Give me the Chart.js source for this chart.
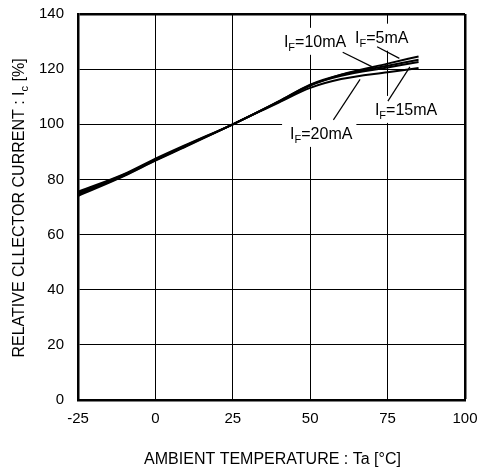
<!DOCTYPE html>
<html>
<head>
<meta charset="utf-8">
<script src="https://cdn.jsdelivr.net/npm/chart.js@4.4.1/dist/chart.umd.min.js"></script>
<style>
  html, body { margin: 0; padding: 0; background: #fff; }
  #wrap { width: 480px; height: 470px; }
</style>
</head>
<body>
<div id="wrap"><canvas id="c" width="480" height="470"></canvas></div>
<script>
// ---- Data ----
const temps = [-25, -10, 0, 10, 25, 40, 50, 60, 75, 85];
const if5  = [74.0, 81.3, 86.8, 92.0, 100, 108.2, 114.0, 118.0, 122.0, 124.6];
const if10 = [74.5, 81.5, 87.0, 92.2, 100, 108.4, 114.4, 118.0, 121.2, 123.4];
const if15 = [75.0, 81.8, 87.2, 92.4, 100, 108.4, 114.2, 117.6, 120.6, 122.6];
const if20 = [75.5, 82.0, 87.5, 92.6, 100, 108.0, 113.2, 116.4, 118.9, 120.4];
const seriesNames = ['5mA', '10mA', '15mA', '20mA'];
const xTicks = [-25, 0, 25, 50, 75, 100];
const yTicks = [0, 20, 40, 60, 80, 100, 120, 140];
const xTitle = 'AMBIENT TEMPERATURE : Ta [°C]';
const yTitleMain = 'RELATIVE CLLECTOR CURRENT : I';
const yTitleSub = 'c';
const yTitleEnd = ' [%]';
// Curve labels: text anchor (left, baseline) and leader line, in data units
const labelAnchors = {
  '10mA': [41.5, 128.1], '5mA': [64.5, 129.6],
  '20mA': [43.5, 94.7],  '15mA': [70.9, 103.4]
};
const leaders = {
  '10mA': [[60.5, 126.1], [69.9, 120.9]],
  '5mA':  [[71.6, 128.1], [78.8, 123.9]],
  '20mA': [[57.5, 101.6], [66.1, 116.3]],
  '15mA': [[75.1, 108.4], [82.2, 120.8]]
};

const FONT = '"Liberation Sans", Arial, sans-serif';
const toPts = arr => arr.map((v, i) => ({ x: temps[i], y: v }));

function labelParts(name) {
  return [
    { t: 'I', size: 16, dy: 0 },
    { t: 'F', size: 11, dy: 4 },
    { t: '=' + name, size: 16, dy: 0 }
  ];
}
function measureParts(ctx, parts) {
  let w = 0;
  parts.forEach(p => { ctx.font = p.size + 'px ' + FONT; w += ctx.measureText(p.t).width; });
  return w;
}
function drawParts(ctx, parts, x, y) {
  parts.forEach(p => {
    ctx.font = p.size + 'px ' + FONT;
    ctx.fillText(p.t, x, y + p.dy);
    x += ctx.measureText(p.t).width;
  });
}

const annot = {
  id: 'annot',
  beforeDatasetsDraw(chart) {
    const ctx = chart.ctx, xs = chart.scales.x, ys = chart.scales.y;
    ctx.save();
    ctx.fillStyle = '#fff';
    seriesNames.forEach(n => {
      const parts = labelParts(n);
      const w = measureParts(ctx, parts);
      const px = xs.getPixelForValue(labelAnchors[n][0]);
      const py = ys.getPixelForValue(labelAnchors[n][1]);
      ctx.fillRect(px - 8, py - 19, w + 12, 27);
    });
    ctx.restore();
  },
  afterDatasetsDraw(chart) {
    const ctx = chart.ctx, xs = chart.scales.x, ys = chart.scales.y;
    ctx.save();
    ctx.fillStyle = '#000';
    ctx.strokeStyle = '#000';
    ctx.lineWidth = 1.2;
    ctx.textBaseline = 'alphabetic';
    ctx.textAlign = 'left';
    seriesNames.forEach(n => {
      const px = xs.getPixelForValue(labelAnchors[n][0]);
      const py = ys.getPixelForValue(labelAnchors[n][1]);
      drawParts(ctx, labelParts(n), px, py);
      const [a, b] = leaders[n];
      ctx.beginPath();
      ctx.moveTo(xs.getPixelForValue(a[0]), ys.getPixelForValue(a[1]));
      ctx.lineTo(xs.getPixelForValue(b[0]), ys.getPixelForValue(b[1]));
      ctx.stroke();
    });
    // x-axis title
    const ca = chart.chartArea;
    ctx.font = '16px ' + FONT;
    ctx.textAlign = 'center';
    ctx.fillText(xTitle, (ca.left + ca.right) / 2 + 1, 464);
    // y-axis title (rotated, with subscript)
    const parts = [
      { t: yTitleMain, size: 16, dy: 0 },
      { t: yTitleSub, size: 11, dy: 4 },
      { t: yTitleEnd, size: 16, dy: 0 }
    ];
    const w = measureParts(ctx, parts);
    ctx.textAlign = 'left';
    ctx.translate(23.5, (ca.top + ca.bottom) / 2 + 1);
    ctx.rotate(-Math.PI / 2);
    drawParts(ctx, parts, -w / 2, 0);
    ctx.restore();
  }
};

const mk = (arr) => ({
  data: toPts(arr),
  borderColor: '#000',
  borderWidth: 2,
  pointRadius: 0,
  fill: false,
  cubicInterpolationMode: 'monotone'
});

new Chart(document.getElementById('c'), {
  type: 'line',
  data: { datasets: [mk(if5), mk(if10), mk(if15), mk(if20)] },
  options: {
    responsive: false,
    animation: false,
    layout: { padding: { top: 14, right: 15, left: 0, bottom: 0 } },
    plugins: { legend: { display: false }, tooltip: { enabled: false } },
    scales: {
      x: {
        type: 'linear', min: -25, max: 100,
        afterBuildTicks: s => { s.ticks = xTicks.map(v => ({ value: v })); },
        afterFit: s => { s.height = 70; s.paddingLeft = 0; s.paddingRight = 0; },
        grid: {
          color: '#000',
          lineWidth: c => (c.index === xTicks.length - 1 ? 2.5 : 1),
          drawTicks: false
        },
        border: { color: '#000', width: 2.5 },
        ticks: { color: '#000', font: { family: FONT, size: 15 }, padding: 10, maxRotation: 0 }
      },
      y: {
        type: 'linear', min: 0, max: 140,
        afterBuildTicks: s => { s.ticks = yTicks.map(v => ({ value: v })); },
        afterFit: s => { s.width = 78; s.paddingTop = 0; s.paddingBottom = 0; },
        grid: {
          color: '#000',
          lineWidth: c => (c.index === yTicks.length - 1 ? 2.5 : 1),
          drawTicks: false
        },
        border: { color: '#000', width: 2.5 },
        ticks: { color: '#000', font: { family: FONT, size: 15 }, padding: 14 }
      }
    }
  },
  plugins: [annot]
});
</script>
</body>
</html>
